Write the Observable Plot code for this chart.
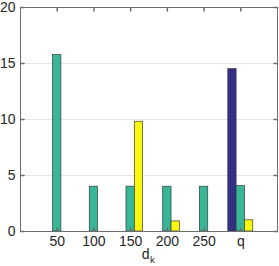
<!DOCTYPE html>
<html>
<head>
<meta charset="utf-8">
<script src="https://cdn.jsdelivr.net/npm/d3@7"></script>
<script src="https://cdn.jsdelivr.net/npm/@observablehq/plot@0.6"></script>
<style>
  html, body { margin: 0; padding: 0; background: #fff; }
</style>
</head>
<body>
<div id="chart"></div>
<script>
const categories = ["50", "100", "150", "200", "250", "q"];
const seriesNames = ["s1", "s2", "s3"];
const series1 = [0, 0, 0, 0, 0, 14.5];
const series2 = [15.75, 4, 4, 4, 4, 4.05];
const series3 = [0, 0, 9.8, 0.9, 0, 1.0];
const yTicks = [0, 5, 10, 15, 20];
const gridTicks = [5, 10, 15];
const colors = ["#332e86", "#37b698", "#f8f80f"];

const barW = 0.227;
const allSeries = [series1, series2, series3];
const bars = [];
allSeries.forEach((vals, s) => {
  vals.forEach((v, i) => {
    if (v > 0) {
      const c = i + 1 + (s - 1) * barW;
      bars.push({series: seriesNames[s], x1: c - barW / 2, x2: c + barW / 2, v});
    }
  });
});
const catPos = categories.map((_, i) => i + 1);
const tickShape = {draw(context, l) { context.moveTo(0, 0); context.lineTo(0, -l); }};
const axisColor = "#6e6e6e";

const chart = Plot.plot({
  width: 279,
  height: 266,
  marginLeft: 20,
  marginRight: 2,
  marginTop: 7,
  marginBottom: 35,
  style: {fontFamily: "'Liberation Sans', Arial, Helvetica, sans-serif", fontSize: "14px", color: "#262626", background: "#fff"},
  x: {domain: [0, 7], label: null},
  y: {domain: [0, 20], label: null},
  color: {domain: seriesNames, range: colors},
  marks: [
    Plot.gridY(gridTicks, {stroke: "#e6e6e6", strokeOpacity: 1}),
    Plot.rect(bars, {x1: "x1", x2: "x2", y1: 0, y2: "v", fill: "series", stroke: "#3a3a3a", strokeWidth: 0.7}),
    Plot.frame({stroke: axisColor}),
    Plot.vector(catPos, {x: d => d, y: 20, length: 3.5, rotate: 180, anchor: "start", shape: tickShape, stroke: axisColor}),
    Plot.vector(catPos, {x: d => d, y: 0, length: 3.5, rotate: 0, anchor: "start", shape: tickShape, stroke: axisColor}),
    Plot.vector(yTicks, {x: 7, y: d => d, length: 3.5, rotate: -90, anchor: "start", shape: tickShape, stroke: axisColor}),
    Plot.vector(yTicks, {x: 0, y: d => d, length: 3.5, rotate: 90, anchor: "start", shape: tickShape, stroke: axisColor}),
    Plot.axisX(catPos, {tickSize: 0, tickPadding: 5, tickFormat: d => categories[d - 1], fontSize: 14, fill: "#262626", label: null}),
    Plot.axisY(yTicks, {tickSize: 0, tickPadding: 5, fontSize: 14, fill: "#262626", label: null}),
    Plot.text([0], {frameAnchor: "bottom", text: () => "d", textAnchor: "end", dx: 0.5, dy: 17.5, lineAnchor: "top", fontSize: 14, fill: "#262626"}),
    Plot.text([0], {frameAnchor: "bottom", text: () => "k", textAnchor: "start", dx: 1, dy: 25, lineAnchor: "top", fontSize: 9.5, fill: "#262626"})
  ]
});
document.getElementById("chart").appendChild(chart);
</script>
</body>
</html>
